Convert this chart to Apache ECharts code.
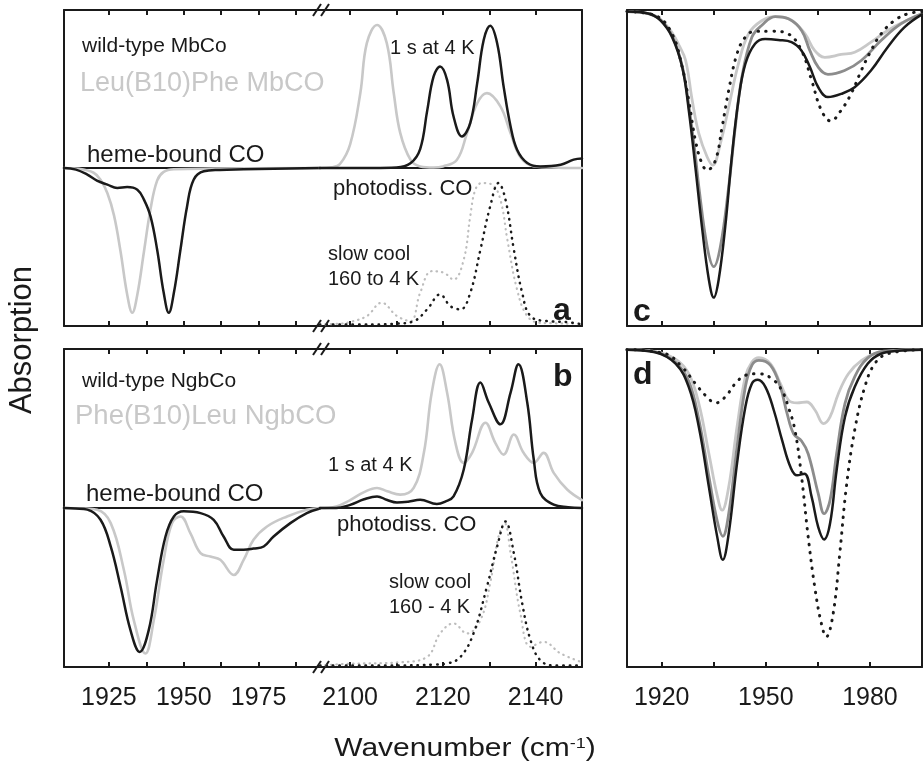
<!DOCTYPE html>
<html>
<head>
<meta charset="utf-8">
<script src="https://cdn.jsdelivr.net/npm/echarts@6/dist/echarts.min.js"></script>
<style>
  html, body { margin: 0; padding: 0; background: #fff; }
  #chart { width: 923px; height: 764px; }
</style>
</head>
<body>
<div id="chart"></div>
<script>
// ---- data: [wavenumber, absorbance (a.u.)] ----
// panel a, 1910-1995 segment (heme-bound CO bands)
const aLowWt = [[1910,0],[1914,-0.01],[1917.8,-0.042],[1921,-0.08],[1924.5,-0.105],[1927.8,-0.126],[1931.1,-0.12],[1934.5,-0.137],[1936.7,-0.2],[1938.9,-0.306],[1941.1,-0.516],[1943.3,-0.79],[1945,-0.916],[1946.7,-0.79],[1948.9,-0.516],[1951.1,-0.243],[1953.3,-0.074],[1956.7,-0.021],[1962,-0.012],[1970,-0.008],[1980,-0.004],[1995.5,0]]
const aLowMut = [[1910,0],[1915,-0.005],[1919.9,-0.03],[1922.2,-0.074],[1924.5,-0.16],[1926.7,-0.3],[1928.9,-0.53],[1931.1,-0.8],[1932.8,-0.916],[1934.5,-0.8],[1936.7,-0.53],[1938.9,-0.26],[1941.1,-0.08],[1943.3,-0.025],[1946.7,-0.008],[1960,-0.004],[1995.5,0]]
// panel a, 2094-2150 segment (photodissociated CO)
const aHighWt = [[2093.5,0],[2105,0],[2110,0.003],[2113,0.03],[2115.1,0.12],[2116.6,0.36],[2118,0.58],[2119.4,0.642],[2120.9,0.558],[2122.3,0.326],[2124.1,0.2],[2125.9,0.284],[2127.4,0.537],[2128.8,0.81],[2130.2,0.9],[2131.7,0.79],[2133.1,0.515],[2134.6,0.263],[2136,0.116],[2138.2,0.032],[2141,0.01],[2145.4,0.021],[2148.2,0.053],[2150,0.06]]
const aHighMut = [[2093.5,0],[2096,0.005],[2097.8,0.025],[2100,0.15],[2102.2,0.475],[2103.6,0.79],[2105.8,0.905],[2107.9,0.79],[2109.4,0.475],[2110.8,0.222],[2113,0.053],[2115.1,0.01],[2118,0.003],[2120,0.01],[2123,0.05],[2125.2,0.22],[2127.4,0.41],[2129.5,0.474],[2132.4,0.39],[2134.6,0.22],[2136.7,0.07],[2139.5,0.012],[2145,0.002],[2150,0]]
const aCoolWt = [[2093.5,-0.99],[2105,-0.99],[2110,-0.985],[2113.7,-0.97],[2116.6,-0.895],[2119.4,-0.8],[2121.6,-0.874],[2123.8,-0.895],[2125.9,-0.79],[2128.1,-0.516],[2130.2,-0.243],[2132,-0.095],[2133.5,-0.2],[2135.3,-0.516],[2137.1,-0.79],[2138.9,-0.937],[2142.5,-0.969],[2146.8,-0.975],[2150,-0.99]]
const aCoolMut = [[2093.5,-0.99],[2098,-0.985],[2100,-0.975],[2103.6,-0.937],[2106.8,-0.853],[2110.1,-0.937],[2113,-0.969],[2115.1,-0.79],[2117.6,-0.653],[2120.2,-0.663],[2122.3,-0.706],[2124.5,-0.579],[2125.9,-0.306],[2127,-0.137],[2128.4,-0.095],[2130.6,-0.105],[2132.4,-0.2],[2133.9,-0.453],[2136,-0.769],[2138.2,-0.937],[2141,-0.98],[2150,-0.985]]

// panel b
const bLowWt = [[1910,0],[1914,-0.003],[1917.8,-0.01],[1922.2,-0.074],[1925.6,-0.242],[1928.9,-0.495],[1932.2,-0.768],[1935.3,-0.905],[1938.3,-0.768],[1941.1,-0.452],[1943.9,-0.179],[1946.7,-0.053],[1950,-0.021],[1955.6,-0.032],[1960,-0.074],[1963.3,-0.179],[1966.7,-0.263],[1970,-0.263],[1973.3,-0.255],[1976.7,-0.242],[1980,-0.179],[1985.6,-0.095],[1991.1,-0.032],[1995.5,-0.003]]
const bLowMut = [[1910,0],[1916,-0.003],[1921.1,-0.011],[1925.6,-0.095],[1930,-0.39],[1933.3,-0.705],[1937.2,-0.915],[1940,-0.705],[1943.3,-0.326],[1946.1,-0.095],[1948.9,-0.053],[1952.2,-0.158],[1955.6,-0.284],[1958.9,-0.305],[1962.2,-0.326],[1966.7,-0.421],[1970,-0.326],[1973.3,-0.2],[1977.8,-0.116],[1984.5,-0.053],[1991.1,-0.011],[1995.5,0]]
const bHighWt = [[2093.5,0],[2097,0],[2100,0.02],[2103,0.055],[2105.8,0.073],[2108,0.05],[2110.1,0.035],[2112.5,0.04],[2115.1,0.052],[2118.7,0.025],[2120.5,0.04],[2122.3,0.073],[2124.5,0.242],[2126.3,0.557],[2128.1,0.789],[2129.9,0.662],[2132.4,0.526],[2134.6,0.726],[2136.3,0.904],[2138.2,0.662],[2139.6,0.305],[2141,0.095],[2143.9,0.021],[2147,0.005],[2150,0]]
const bHighMut = [[2093.5,0],[2097,0.01],[2100,0.05],[2103,0.1],[2105.8,0.126],[2108,0.105],[2110.8,0.084],[2113.7,0.126],[2115.9,0.347],[2117.6,0.726],[2119.3,0.904],[2120.9,0.726],[2122.7,0.41],[2124.5,0.284],[2126.3,0.347],[2129.2,0.536],[2131.3,0.41],[2133.1,0.336],[2135.3,0.462],[2137.4,0.347],[2139.6,0.284],[2141.7,0.347],[2143.9,0.221],[2146.8,0.116],[2150,0.05]]
const bCoolWt = [[2093.5,-0.99],[2110,-0.99],[2118,-0.985],[2120.9,-0.978],[2123.8,-0.936],[2126.6,-0.789],[2129.5,-0.495],[2131.7,-0.242],[2133.5,-0.085],[2135.3,-0.284],[2137.1,-0.599],[2138.9,-0.831],[2141,-0.957],[2143.9,-0.99],[2150,-0.99]]
const bCoolMut = [[2093.5,-0.99],[2100,-0.98],[2110.8,-0.97],[2116.6,-0.936],[2119.4,-0.789],[2122.3,-0.726],[2125.2,-0.789],[2128.1,-0.705],[2130.2,-0.473],[2132,-0.179],[2133.3,-0.095],[2134.6,-0.284],[2136.7,-0.662],[2138.9,-0.873],[2141.7,-0.842],[2145.4,-0.915],[2150,-0.97]]

// panel c
const cBlack = [[1910,-0.003],[1916.4,-0.01],[1919.7,-0.032],[1923,-0.084],[1925.9,-0.179],[1927.8,-0.316],[1929.7,-0.496],[1931.6,-0.686],[1933.6,-0.854],[1935,-0.91],[1936.4,-0.854],[1938.3,-0.686],[1940.2,-0.464],[1942.1,-0.285],[1944.1,-0.169],[1946.9,-0.105],[1949.8,-0.09],[1953.6,-0.093],[1957.4,-0.1],[1960.3,-0.127],[1962.7,-0.179],[1965.1,-0.243],[1967.9,-0.274],[1971.7,-0.264],[1975.6,-0.243],[1980.3,-0.19],[1985.1,-0.116],[1989.9,-0.053],[1995,-0.012]]
const cDark = [[1910,-0.003],[1916.4,-0.01],[1919.7,-0.03],[1923,-0.08],[1925.9,-0.175],[1927.8,-0.3],[1929.7,-0.46],[1930.7,-0.559],[1933.1,-0.749],[1935,-0.812],[1936.9,-0.749],[1939.3,-0.559],[1941.2,-0.369],[1943.1,-0.211],[1946,-0.084],[1948.8,-0.047],[1952.7,-0.019],[1956.5,-0.026],[1960.3,-0.063],[1962.7,-0.127],[1965.1,-0.179],[1967.9,-0.202],[1972.7,-0.19],[1977.5,-0.158],[1983.2,-0.095],[1988.9,-0.042],[1995,-0.01]]
const cLight = [[1910,-0.003],[1916.4,-0.01],[1919.7,-0.028],[1923,-0.07],[1925,-0.11],[1926.9,-0.158],[1928.8,-0.285],[1930.7,-0.39],[1933.1,-0.464],[1934.7,-0.49],[1936.9,-0.422],[1939.3,-0.306],[1942.1,-0.169],[1945,-0.074],[1948.8,-0.032],[1952.7,-0.019],[1957.4,-0.03],[1961.3,-0.074],[1964.1,-0.127],[1967,-0.148],[1971.7,-0.139],[1975.6,-0.132],[1980.3,-0.1],[1985.1,-0.063],[1989.9,-0.035],[1995,-0.01]]
const cDots = [[1910,-0.003],[1918.3,-0.016],[1923,-0.074],[1925.9,-0.179],[1927.8,-0.285],[1929.7,-0.411],[1931.6,-0.485],[1933.1,-0.506],[1935.5,-0.474],[1937.4,-0.369],[1939.3,-0.253],[1941.7,-0.137],[1944.1,-0.084],[1946.9,-0.065],[1951.7,-0.065],[1956.5,-0.074],[1960.3,-0.127],[1963.2,-0.221],[1966,-0.316],[1968.7,-0.35],[1971.7,-0.316],[1974.6,-0.263],[1977.5,-0.19],[1980.3,-0.127],[1983.2,-0.074],[1987,-0.032],[1990.9,-0.01],[1995,-0.003]]

// panel d
const dBlack = [[1910,0],[1918.1,-0.008],[1924,-0.044],[1927.8,-0.118],[1930.7,-0.244],[1933.6,-0.433],[1936,-0.59],[1937.6,-0.662],[1939.3,-0.58],[1941.7,-0.359],[1944.1,-0.181],[1946,-0.107],[1947.7,-0.095],[1949.9,-0.118],[1952.3,-0.191],[1954.7,-0.286],[1957.1,-0.37],[1959,-0.396],[1961.1,-0.391],[1963.2,-0.464],[1965.1,-0.559],[1966.8,-0.598],[1968.5,-0.548],[1970.4,-0.38],[1972.8,-0.212],[1975.6,-0.118],[1979.4,-0.044],[1983.2,-0.013],[1989,-0.003],[1995,0]]
const dDark = [[1910,0],[1918.1,-0.007],[1924,-0.04],[1927.8,-0.1],[1930.7,-0.22],[1933.6,-0.4],[1936,-0.54],[1937.6,-0.588],[1939.3,-0.517],[1941.7,-0.307],[1944.1,-0.118],[1946,-0.049],[1948,-0.034],[1951.3,-0.049],[1954.2,-0.118],[1956.1,-0.2],[1958,-0.265],[1960.3,-0.288],[1962.2,-0.328],[1965.1,-0.454],[1966.8,-0.517],[1968.5,-0.475],[1970.4,-0.328],[1972.8,-0.17],[1975.6,-0.086],[1979.4,-0.026],[1984,-0.005],[1995,0]]
const dLight = [[1910,0],[1918.1,-0.006],[1924,-0.03],[1927.8,-0.076],[1930.7,-0.17],[1933.6,-0.328],[1936,-0.46],[1937.4,-0.506],[1939.3,-0.433],[1941.7,-0.244],[1944.1,-0.086],[1946,-0.039],[1948,-0.025],[1951.3,-0.044],[1954.2,-0.107],[1956.6,-0.16],[1959,-0.168],[1961.8,-0.165],[1964.2,-0.191],[1966.6,-0.233],[1968.5,-0.212],[1970.9,-0.139],[1973.8,-0.076],[1977.6,-0.034],[1982.2,-0.01],[1995,0]]
const dDots = [[1910,0],[1921.1,-0.013],[1925.9,-0.055],[1929.7,-0.107],[1932.6,-0.144],[1935.6,-0.168],[1938.3,-0.149],[1941.2,-0.107],[1944.1,-0.081],[1947.9,-0.076],[1951.7,-0.091],[1954.6,-0.128],[1956.5,-0.181],[1958.4,-0.254],[1960.3,-0.401],[1962.2,-0.59],[1964.1,-0.748],[1966,-0.863],[1967.4,-0.905],[1969.4,-0.832],[1971.3,-0.643],[1973.2,-0.433],[1975.6,-0.254],[1978.5,-0.118],[1981.4,-0.044],[1985.1,-0.013],[1995,0]]

// axis ticks / labels
const lowTicks = [1925, 1937.5, 1950, 1962.5, 1975, 1987.5]
const lowLabels = [1925, 1950, 1975]
const highTicks = [2100, 2110, 2120, 2130, 2140]
const highLabels = [2100, 2120, 2140]
const rightTicks = [1920, 1935, 1950, 1965, 1980]
const rightLabels = [1920, 1950, 1980]

const INK = '#1a1a1a'
const LIGHT = '#c8c8c8'
const MID = '#8c8c8c'
const FONT = '"Liberation Sans", Arial, sans-serif'

const chart = echarts.init(document.getElementById('chart'))

// grid order: a-low, a-high, b-low, b-high, c, d
const grids = [
  { left: 64, top: 10, width: 256, height: 316 },
  { left: 320, top: 10, width: 262, height: 316 },
  { left: 64, top: 349, width: 256, height: 318 },
  { left: 320, top: 349, width: 262, height: 318 },
  { left: 627, top: 10, width: 295, height: 316 },
  { left: 627, top: 349, width: 295, height: 318 }
]
const xRange = [[1910, 1995.5], [2093.5, 2150], [1910, 1995.5], [2093.5, 2150], [1910, 1995], [1910, 1995]]
const xTicks = [lowTicks, highTicks, lowTicks, highTicks, rightTicks, rightTicks]
const xLabels = [null, null, lowLabels, highLabels, null, rightLabels]
const yRange = [[-1, 1], [-1, 1], [-1, 1], [-1, 1], [-1, 0.002], [-1, 0.002]]

const xAxes = []
grids.forEach((g, i) => {
  ;['bottom', 'top'].forEach(pos => {
    const labels = pos === 'bottom' ? xLabels[i] : null
    xAxes.push({
      gridIndex: i,
      type: 'value',
      position: pos,
      min: xRange[i][0],
      max: xRange[i][1],
      axisLine: { show: true, onZero: false, lineStyle: { color: INK, width: 2 } },
      axisTick: { show: true, inside: true, length: 5, customValues: xTicks[i], lineStyle: { color: INK, width: 2 } },
      axisLabel: labels
        ? { show: true, customValues: labels, margin: 19, fontSize: 25, color: INK, fontFamily: FONT, formatter: v => String(v) }
        : { show: false },
      splitLine: { show: false }
    })
  })
})

const yAxes = grids.map((g, i) => ({
  gridIndex: i,
  type: 'value',
  position: (i === 1 || i === 3) ? 'right' : 'left',
  min: yRange[i][0],
  max: yRange[i][1],
  axisLine: { show: true, onZero: false, lineStyle: { color: INK, width: 2 } },
  axisTick: { show: false },
  axisLabel: { show: false },
  splitLine: { show: false }
}))
// right-hand frame edge for panels c and d
;[4, 5].forEach(i => {
  yAxes.push({
    gridIndex: i, type: 'value', position: 'right', min: yRange[i][0], max: yRange[i][1],
    axisLine: { show: true, onZero: false, lineStyle: { color: INK, width: 2 } },
    axisTick: { show: false }, axisLabel: { show: false }, splitLine: { show: false }
  })
})

const series = []
function addLine(grid, data, color, width, dots, zeroLine) {
  const s = {
    type: 'line',
    xAxisIndex: grid * 2,
    yAxisIndex: grid,
    data: data,
    showSymbol: false,
    smooth: 0.4,
    silent: true,
    lineStyle: { color: color, width: width, type: dots ? [0.5, dots] : 'solid', cap: 'round', join: 'round' }
  }
  if (zeroLine) {
    s.markLine = {
      silent: true, symbol: 'none', z: 1, label: { show: false },
      lineStyle: { color: INK, width: 2, type: 'solid' },
      data: [{ yAxis: 0 }]
    }
  }
  series.push(s)
}

// panel a
addLine(0, aLowMut, LIGHT, 2.6, 0, true)
addLine(0, aLowWt, INK, 2.5)
addLine(1, aHighMut, LIGHT, 2.6, 0, true)
addLine(1, aHighWt, INK, 2.5)
addLine(1, aCoolMut, '#bdbdbd', 2.2, 5)
addLine(1, aCoolWt, INK, 2.5, 6)
// panel b
addLine(2, bLowMut, LIGHT, 2.6, 0, true)
addLine(2, bLowWt, INK, 2.5)
addLine(3, bHighMut, LIGHT, 2.6, 0, true)
addLine(3, bHighWt, INK, 2.5)
addLine(3, bCoolMut, '#bdbdbd', 2.2, 5)
addLine(3, bCoolWt, INK, 2.5, 6)
// panel c
addLine(4, cLight, LIGHT, 2.8)
addLine(4, cDark, MID, 2.8)
addLine(4, cBlack, INK, 2.5)
addLine(4, cDots, INK, 3, 7.5)
// panel d
addLine(5, dLight, LIGHT, 2.8)
addLine(5, dDark, MID, 2.8)
addLine(5, dBlack, INK, 2.5)
addLine(5, dDots, INK, 3, 7.5)

function txt(text, x, y, size, color, bold) {
  return {
    type: 'text', x: x, y: y, z: 100, silent: true,
    style: { text: text, fill: color, font: (bold ? 'bold ' : '') + size + 'px ' + FONT, textAlign: 'left', textVerticalAlign: 'middle' }
  }
}
function breakMark(cx, cy) {
  return {
    type: 'group', z: 100, silent: true,
    children: [
      { type: 'rect', shape: { x: cx - 5, y: cy - 3, width: 10, height: 6 }, style: { fill: '#fff' } },
      { type: 'line', shape: { x1: cx - 10, y1: cy + 6, x2: cx - 2, y2: cy - 6 }, style: { stroke: INK, lineWidth: 2 } },
      { type: 'line', shape: { x1: cx - 2, y1: cy + 6, x2: cx + 6, y2: cy - 6 }, style: { stroke: INK, lineWidth: 2 } }
    ]
  }
}

const graphics = [
  breakMark(323, 10), breakMark(323, 326), breakMark(323, 349), breakMark(323, 667),
  // panel a
  txt('wild-type MbCo', 82, 46, 21, INK),
  txt('Leu(B10)Phe MbCO', 80, 84, 27, LIGHT),
  txt('heme-bound CO', 87, 155, 24, INK),
  txt('1 s at 4 K', 390, 48, 20, INK),
  txt('photodiss. CO', 333, 189, 22, INK),
  txt('slow cool', 328, 254, 20, INK),
  txt('160 to 4 K', 328, 279, 20, INK),
  txt('a', 553, 311, 32, INK, true),
  // panel b
  txt('wild-type NgbCo', 82, 381, 21, INK),
  txt('Phe(B10)Leu NgbCO', 75, 416, 27.5, LIGHT),
  txt('1 s at 4 K', 328, 465, 20, INK),
  txt('heme-bound CO', 86, 494, 24, INK),
  txt('photodiss. CO', 337, 525, 22, INK),
  txt('slow cool', 389, 582, 20, INK),
  txt('160 - 4 K', 389, 607, 20, INK),
  txt('b', 553, 377, 32, INK, true),
  // panels c, d
  txt('c', 633, 312, 32, INK, true),
  txt('d', 633, 375, 32, INK, true),
  // axis titles
  {
    type: 'text', x: 22, y: 340, rotation: Math.PI / 2, z: 100, silent: true,
    style: { text: 'Absorption', fill: INK, font: '31px ' + FONT, textAlign: 'center', textVerticalAlign: 'middle' }
  },
  {
    type: 'text', x: 465, y: 749, scaleX: 1.2, z: 100, silent: true,
    style: {
      text: '{n|Wavenumber (cm}{s|-1}{n|)}',
      textAlign: 'center', textVerticalAlign: 'middle',
      rich: {
        n: { fontSize: 25, fontFamily: FONT, color: INK, fill: INK },
        s: { fontSize: 15, fontFamily: FONT, color: INK, fill: INK, verticalAlign: 'top', padding: [0, 0, 10, 0] }
      }
    }
  }
]

chart.setOption({
  animation: false,
  backgroundColor: '#fff',
  grid: grids,
  xAxis: xAxes,
  yAxis: yAxes,
  series: series,
  graphic: { elements: graphics }
})
</script>
</body>
</html>
